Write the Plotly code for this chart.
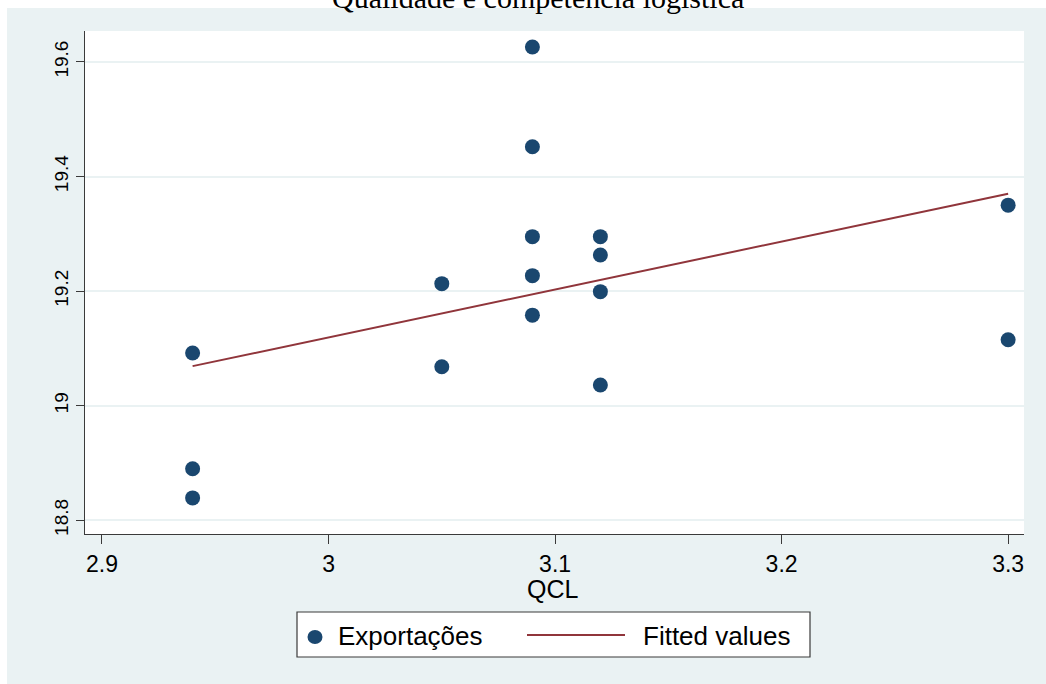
import plotly.graph_objects as go

# ---- data ----
qcl = [3.09, 3.09, 3.09, 3.09, 3.09,
       3.12, 3.12, 3.12, 3.12,
       3.05, 3.05,
       2.94, 2.94, 2.94,
       3.30, 3.30]
exportacoes = [19.626, 19.452, 19.295, 19.227, 19.158,
               19.295, 19.263, 19.199, 19.036,
               19.213, 19.068,
               19.092, 18.890, 18.839,
               19.350, 19.115]
fit_x = [2.94, 3.30]
fit_y = [19.069, 19.370]
x_ticks = [2.9, 3.0, 3.1, 3.2, 3.3]
x_ticklabels = ["2.9", "3", "3.1", "3.2", "3.3"]
y_ticks = [18.8, 19.0, 19.2, 19.4, 19.6]
y_ticklabels = ["18.8", "19", "19.2", "19.4", "19.6"]

title_text = "Qualidade e competência logística"
x_title = "QCL"
legend_names = ["Exportações", "Fitted values"]

# ---- styles ----
W, H = 1046, 684
L, R, T, B = 85, 22, 31, 150
PW, PH = W - L - R, H - T - B
NAVY = "#1a476f"
MAROON = "#90353b"
BG = "#eaf2f3"
AX = "#3a3a3a"
SANS = "Liberation Sans, Arial, sans-serif"


def px(xp):
    return (xp - L) / PW


def py(yp):
    return (H - B - yp) / PH


fig = go.Figure()
fig.add_trace(go.Scatter(
    x=qcl, y=exportacoes, mode="markers", name=legend_names[0],
    marker=dict(color=NAVY, size=15, line=dict(width=0)),
    showlegend=False))
fig.add_trace(go.Scatter(
    x=fit_x, y=fit_y, mode="lines", name=legend_names[1],
    line=dict(color=MAROON, width=2), showlegend=False))

shapes = [
    # outer light background
    dict(type="rect", xref="paper", yref="paper", layer="below",
         x0=px(7), x1=px(W + 2), y0=py(H + 2), y1=py(8),
         fillcolor=BG, line=dict(width=0)),
    # plot area white
    dict(type="rect", xref="paper", yref="paper", layer="below",
         x0=0, x1=1, y0=0, y1=1, fillcolor="white", line=dict(width=0)),
    # legend box
    dict(type="rect", xref="paper", yref="paper",
         x0=px(297), x1=px(810), y0=py(657), y1=py(612),
         fillcolor="white", line=dict(color=AX, width=1.2)),
    # legend marker
    dict(type="circle", xref="paper", yref="paper",
         x0=px(307.5), x1=px(322.5), y0=py(644), y1=py(630),
         fillcolor=NAVY, line=dict(width=0)),
    # legend line
    dict(type="line", xref="paper", yref="paper",
         x0=px(527), x1=px(625), y0=py(635), y1=py(635),
         line=dict(color=MAROON, width=2)),
]

annotations = [
    dict(text=title_text, xref="paper", yref="paper", x=px(538), y=py(16),
         xanchor="center", yanchor="bottom", showarrow=False,
         font=dict(family="Liberation Serif, serif", size=30, color="black")),
    dict(text=legend_names[0], xref="paper", yref="paper", x=px(336), y=py(636),
         xanchor="left", yanchor="middle", showarrow=False,
         font=dict(family=SANS, size=26, color="black")),
    dict(text=legend_names[1], xref="paper", yref="paper", x=px(641), y=py(636),
         xanchor="left", yanchor="middle", showarrow=False,
         font=dict(family=SANS, size=26, color="black")),
    dict(text=x_title, xref="paper", yref="paper", x=px(553), y=py(589),
         xanchor="center", yanchor="middle", showarrow=False,
         font=dict(family=SANS, size=25, color="black")),
]

fig.update_layout(
    width=W, height=H,
    margin=dict(l=L, r=R, t=T, b=B, pad=0),
    paper_bgcolor="white", plot_bgcolor="white",
    showlegend=False,
    shapes=shapes, annotations=annotations,
    xaxis=dict(range=[2.8925, 3.307], tickmode="array", tickvals=x_ticks,
               ticktext=x_ticklabels, showgrid=False, zeroline=False,
               showline=True, linecolor=AX, linewidth=1.2,
               ticks="outside", ticklen=9, tickcolor=AX, tickwidth=1.2,
               tickfont=dict(family=SANS, size=23, color="black")),
    yaxis=dict(range=[18.776, 19.654], tickmode="array", tickvals=y_ticks,
               ticktext=y_ticklabels, showgrid=True, gridcolor=BG, gridwidth=1.5,
               zeroline=False, showline=True, linecolor=AX, linewidth=1.2,
               ticks="outside", ticklen=8, tickcolor=AX, tickwidth=1.2,
               tickangle=-90,
               tickfont=dict(family=SANS, size=19, color="black")),
)

fig.write_html(
    "out.html",
    config={"displayModeBar": False},
    post_script="document.body.style.margin='0';document.body.style.overflow='hidden';",
)
